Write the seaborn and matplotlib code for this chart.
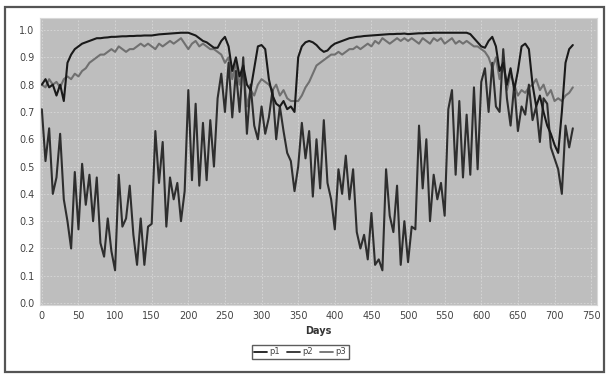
import numpy as np
import pandas as pd
import matplotlib
matplotlib.use("Agg")
import matplotlib.pyplot as plt
import seaborn as sns
from matplotlib.patches import Rectangle
from matplotlib.lines import Line2D

days = list(range(0, 730, 5))

p1 = [0.80, 0.82, 0.79, 0.80, 0.76, 0.80, 0.74, 0.88, 0.91, 0.93,
      0.94, 0.95, 0.955, 0.96, 0.965, 0.97, 0.97, 0.972, 0.973, 0.975,
      0.975, 0.976, 0.977, 0.977, 0.978, 0.978, 0.979, 0.979, 0.98, 0.98,
      0.98, 0.982, 0.984, 0.985, 0.986, 0.987, 0.988, 0.989, 0.99, 0.99,
      0.99, 0.985, 0.98, 0.97, 0.96, 0.955, 0.945, 0.935, 0.935, 0.96,
      0.975, 0.94, 0.85, 0.90, 0.83, 0.87, 0.80, 0.78, 0.86, 0.94,
      0.945, 0.93, 0.82, 0.76, 0.73, 0.72, 0.74, 0.71, 0.72, 0.70,
      0.90, 0.94, 0.955, 0.96, 0.955, 0.945, 0.93, 0.92, 0.925, 0.94,
      0.95, 0.955, 0.96, 0.965, 0.97, 0.972, 0.975, 0.976, 0.978, 0.979,
      0.98, 0.981, 0.982, 0.983, 0.984, 0.985, 0.985, 0.986, 0.986, 0.987,
      0.985, 0.986, 0.987, 0.988, 0.988, 0.989, 0.989, 0.99, 0.99, 0.99,
      0.99, 0.99, 0.99, 0.99, 0.99, 0.99, 0.99, 0.985, 0.97, 0.955,
      0.94, 0.935, 0.96, 0.975, 0.94, 0.85, 0.88, 0.80, 0.86, 0.78,
      0.85, 0.94, 0.95, 0.93, 0.80, 0.72, 0.76, 0.70, 0.65, 0.62,
      0.58, 0.55, 0.70, 0.88, 0.93, 0.945]

p2 = [0.71, 0.52, 0.64, 0.40, 0.46, 0.62, 0.38, 0.30, 0.20, 0.48,
      0.27, 0.51, 0.36, 0.47, 0.30, 0.46, 0.22, 0.17, 0.31, 0.19,
      0.12, 0.47, 0.28, 0.31, 0.43, 0.25, 0.14, 0.31, 0.14, 0.28,
      0.29, 0.63, 0.44, 0.59, 0.28, 0.46, 0.38, 0.44, 0.30, 0.41,
      0.78, 0.45, 0.73, 0.43, 0.66, 0.45, 0.67, 0.50, 0.75, 0.84,
      0.70, 0.88, 0.68, 0.85, 0.70, 0.90, 0.62, 0.80, 0.65, 0.60,
      0.72, 0.62, 0.68, 0.78, 0.60, 0.72, 0.63, 0.55, 0.52, 0.41,
      0.50, 0.66, 0.53, 0.63, 0.39, 0.60, 0.42, 0.67, 0.44, 0.38,
      0.27, 0.49, 0.40, 0.54, 0.38, 0.49, 0.26, 0.20, 0.25, 0.16,
      0.33, 0.14, 0.16, 0.12, 0.49, 0.32, 0.26, 0.43, 0.14, 0.30,
      0.15, 0.28, 0.27, 0.65, 0.42, 0.60, 0.30, 0.47, 0.38, 0.44,
      0.32, 0.71, 0.78, 0.47, 0.74, 0.46, 0.69, 0.47, 0.79, 0.49,
      0.81, 0.86, 0.70, 0.88, 0.72, 0.70, 0.93, 0.75, 0.65, 0.80,
      0.63, 0.72, 0.69, 0.80, 0.67, 0.72, 0.59, 0.75, 0.73, 0.57,
      0.53, 0.49, 0.40, 0.65, 0.57, 0.64]

p3 = [0.80, 0.79, 0.82, 0.80, 0.81, 0.79, 0.82, 0.83, 0.82, 0.84,
      0.83, 0.85, 0.86, 0.88, 0.89, 0.90, 0.91, 0.91, 0.92, 0.93,
      0.92, 0.94, 0.93, 0.92, 0.93, 0.93, 0.94, 0.95, 0.94, 0.95,
      0.94, 0.93, 0.95, 0.94, 0.95, 0.96, 0.95, 0.96, 0.97, 0.95,
      0.93, 0.95, 0.96, 0.94, 0.95, 0.94, 0.93, 0.93, 0.92, 0.91,
      0.88, 0.90, 0.82, 0.88, 0.80, 0.86, 0.72, 0.78, 0.76, 0.80,
      0.82, 0.81, 0.80, 0.78, 0.80, 0.76, 0.78, 0.75, 0.74, 0.74,
      0.74, 0.76, 0.79, 0.81, 0.84, 0.87, 0.88, 0.89, 0.90, 0.91,
      0.91, 0.92, 0.91, 0.92, 0.93, 0.93, 0.94, 0.93, 0.94, 0.95,
      0.94, 0.96, 0.95, 0.97, 0.96, 0.95, 0.96, 0.97, 0.96, 0.97,
      0.96, 0.97, 0.96, 0.95, 0.97, 0.96, 0.95, 0.97, 0.96, 0.97,
      0.95, 0.96, 0.97, 0.95, 0.96, 0.95, 0.96, 0.95, 0.94, 0.94,
      0.93, 0.92, 0.90, 0.86, 0.90, 0.82, 0.88, 0.78, 0.84, 0.80,
      0.76, 0.78, 0.77, 0.79, 0.80, 0.82, 0.78, 0.80, 0.76, 0.78,
      0.74, 0.75, 0.74, 0.76, 0.77, 0.79]

series_names = ["p1", "p2", "p3"]
x_ticks = list(range(0, 800, 50))
y_ticks = [round(0.1 * i, 1) for i in range(11)]

df = pd.concat([
    pd.DataFrame({"Days": days, "value": vals, "series": name})
    for name, vals in zip(series_names, [p1, p2, p3])
])

sns.set_theme(style="white")
plt.rcParams['font.family'] = ['DejaVu Sans']

fig = plt.figure(figsize=(6.06, 3.75), dpi=100)
fig.patch.set_facecolor("white")
ax = fig.add_axes([40 / 606, 1 - 305 / 375, 557 / 606, 287 / 375])

palette = {"p1": "#1a1a1a", "p2": "#2e2e2e", "p3": "#707070"}
sns.lineplot(data=df, x="Days", y="value", hue="series", palette=palette,
             hue_order=["p3", "p2", "p1"], linewidth=1.5, ax=ax, legend=False,
             estimator=None, sort=False)

ax.set_facecolor("#bebebe")
ax.set_xlim(-2.5, 758)
ax.set_ylim(-0.007, 1.044)
ax.set_xticks(x_ticks)
ax.set_yticks(y_ticks)
ax.set_yticklabels([f"{v:.1f}" for v in y_ticks])
ax.grid(True, color="#d8d8d8", linestyle=(0, (2, 2)), linewidth=0.6)
ax.set_axisbelow(True)
for s in ax.spines.values():
    s.set_color("#d8d8d8")
    s.set_linewidth(0.8)
ax.tick_params(axis="both", labelsize=7, colors="#666666", length=2,
               width=0.6, direction="out", pad=2, labelcolor="#444444")
ax.set_xlabel("Days", fontsize=7, fontweight="bold", color="#333333", labelpad=4)
ax.set_ylabel("")

handles = [Line2D([0], [0], color=palette[n], linewidth=1.3) for n in series_names]
leg = fig.legend(handles, series_names, loc="center", bbox_to_anchor=(300 / 606, 1 - 352 / 375),
                 ncol=3, fontsize=6, frameon=True, fancybox=False, handlelength=1.6,
                 handletextpad=0.3, columnspacing=0.8, borderpad=0.25)
leg.get_frame().set_edgecolor("#333333")
leg.get_frame().set_linewidth(1.0)
for t in leg.get_texts():
    t.set_color("#444444")

fig.patches.append(Rectangle((5 / 606, 3 / 375), 599 / 606, 365 / 375, transform=fig.transFigure,
                             fill=False, edgecolor="#555555", linewidth=1.6))

fig.savefig("out.png", dpi=100)
